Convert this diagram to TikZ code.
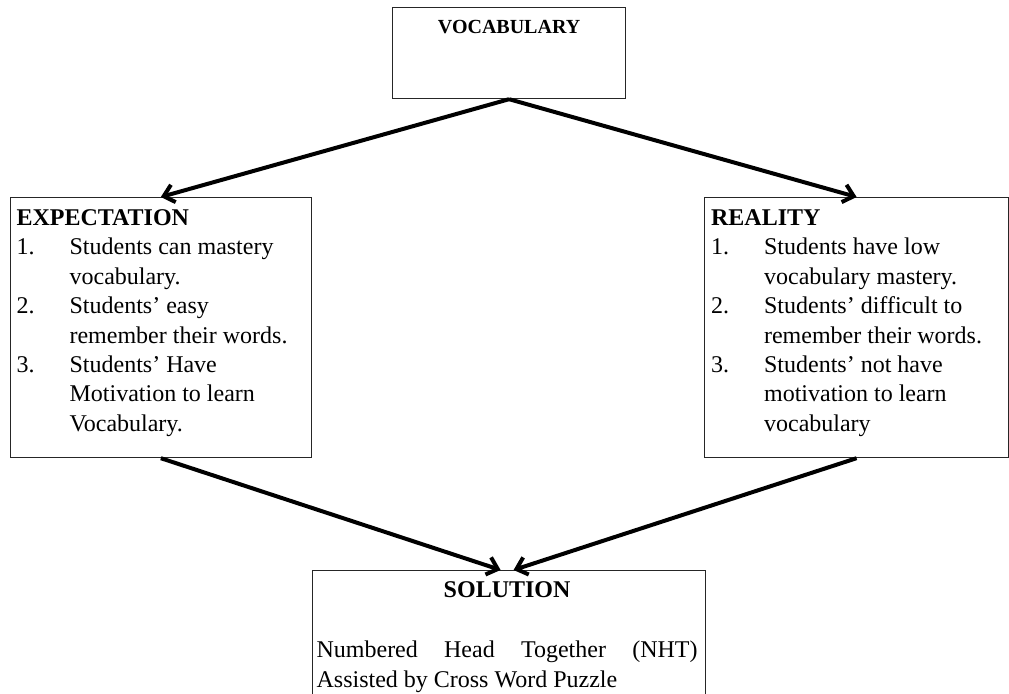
\documentclass[tikz,border=0pt]{standalone}
\usepackage{fontspec}
\setmainfont{Liberation Serif}
\usetikzlibrary{arrows.meta}

\tikzset{
  box/.style={draw=black!85, line width=0.6pt, inner sep=0pt, anchor=north west},
  link/.style={-{Straight Barb[length=5pt,width=9pt]}, line width=2pt},
}
\newcommand{\nr}[1]{\makebox[26.5pt][l]{#1}}
\newcommand{\ind}{\hspace*{26.5pt}}

\begin{document}
\begin{tikzpicture}[x=0.5pt, y=-0.5pt, font=\fontsize{12}{14.7}\selectfont]
    \useasboundingbox (0,0) rectangle (1009,694);
    \clip (0,0) rectangle (1009,694);
	% boxes
	\node[box] (vocab) at (392,7) {\begin{minipage}[t][45.5pt][t]{116.5pt}\centering
		\fontsize{10}{12}\selectfont\rule{0pt}{13pt}\textbf{VOCABULARY}\end{minipage}};
	\node[box] (expect) at (9.5,197) {\begin{minipage}[t][130pt][t]{150.75pt}\leftskip=3.25pt
		\rule{0pt}{14pt}\textbf{EXPECTATION}\\
		\nr{1.}Students can mastery\\
		\ind vocabulary.\\
		\nr{2.}Students' easy\\
		\ind remember their words.\\
		\nr{3.}Students' Have\\
		\ind Motivation to learn\\
		\ind Vocabulary.\end{minipage}};
	\node[box] (reality) at (704,197) {\begin{minipage}[t][130pt][t]{152pt}\leftskip=3.25pt
		\rule{0pt}{14pt}\textbf{REALITY}\\
		\nr{1.}Students have low\\
		\ind vocabulary mastery.\\
		\nr{2.}Students' difficult to\\
		\ind remember their words.\\
		\nr{3.}Students' not have\\
		\ind motivation to learn\\
		\ind vocabulary\end{minipage}};
	\node[box] (solution) at (312,570) {\begin{minipage}[t][65pt][t]{196.5pt}\leftskip=2pt
		\fontsize{12}{15}\selectfont
		\rule{0pt}{13.5pt}\makebox[190.5pt]{\textbf{SOLUTION}}\\[15pt]
		\makebox[190.5pt][s]{Numbered Head Together (NHT)}\\
		Assisted by Cross Word Puzzle\end{minipage}};
	% arrows
	\draw[link] (vocab.south) -- (expect.north);
	\draw[link] (vocab.south) -- (reality.north);
	\draw[link] (expect.south) -- ([xshift=-4.25pt]solution.north);
	\draw[link] (reality.south) -- ([xshift=2.25pt]solution.north);
\end{tikzpicture}
\end{document}
